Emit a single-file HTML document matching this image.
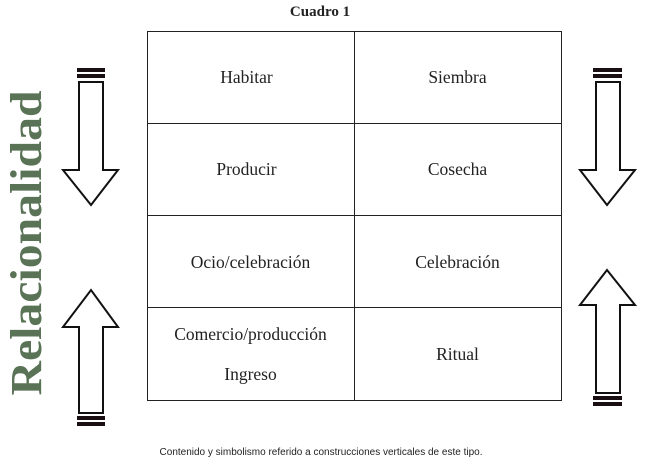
<!DOCTYPE html>
<html><head><meta charset="utf-8"><style>
body{margin:0;width:645px;height:469px;background:#fff;position:relative;overflow:hidden;font-family:"Liberation Serif",serif;}
.t{position:absolute;font-size:17.5px;color:#222;text-align:center;}
</style></head><body>
<div class="t" style="left:250px;top:4px;width:140px;font-weight:bold;font-size:15px;">Cuadro 1</div>
<svg width="645" height="469" style="position:absolute;left:0;top:0">
<g stroke="#222" stroke-width="1" fill="none">
<rect x="147.5" y="31.5" width="414" height="369"/>
<line x1="354.5" y1="31" x2="354.5" y2="401"/>
<line x1="147" y1="123.5" x2="562" y2="123.5"/>
<line x1="147" y1="215.5" x2="562" y2="215.5"/>
<line x1="147" y1="307.5" x2="562" y2="307.5"/>
</g>
<g fill="#fff" stroke="#111" stroke-width="2">
<polygon points="79,82 103,82 103,170 118,170 91,205 63,170 79,170"/>
<polygon points="79,413 103,413 103,327 118,327 91,290 63,327 79,327"/>
<polygon points="596,82 620,82 620,170 635,170 607,205 580,170 596,170"/>
<polygon points="596,393 620,393 620,305 635,305 607,270 580,305 596,305"/>
</g>
<g fill="#1a1014">
<rect x="77" y="68" width="28" height="4"/><rect x="77" y="74" width="28" height="4"/>
<rect x="77" y="416" width="28" height="4"/><rect x="77" y="422" width="28" height="4"/>
<rect x="593" y="68" width="29" height="4"/><rect x="593" y="74" width="29" height="4"/>
<rect x="593" y="396" width="29" height="4"/><rect x="593" y="402" width="29" height="4"/>
</g>
<text x="0" y="0" transform="translate(41,243) rotate(-90)" text-anchor="middle" font-family="Liberation Serif" font-weight="bold" font-size="44" fill="#5a7356" textLength="305" lengthAdjust="spacingAndGlyphs">Relacionalidad</text>
</svg>
<div class="t" style="left:143px;top:67px;width:207px;">Habitar</div>
<div class="t" style="left:354px;top:67px;width:207px;">Siembra</div>
<div class="t" style="left:143px;top:159px;width:207px;">Producir</div>
<div class="t" style="left:354px;top:159px;width:207px;">Cosecha</div>
<div class="t" style="left:147px;top:252px;width:207px;">Ocio/celebración</div>
<div class="t" style="left:354px;top:252px;width:207px;">Celebración</div>
<div class="t" style="left:147px;top:324px;width:207px;">Comercio/producción</div>
<div class="t" style="left:147px;top:364px;width:207px;">Ingreso</div>
<div class="t" style="left:354px;top:344px;width:207px;">Ritual</div>
<div class="t" style="left:121px;top:447px;width:400px;font-family:'Liberation Sans',sans-serif;font-size:10px;">Contenido y simbolismo referido a construcciones verticales de este tipo.</div>
</body></html>
